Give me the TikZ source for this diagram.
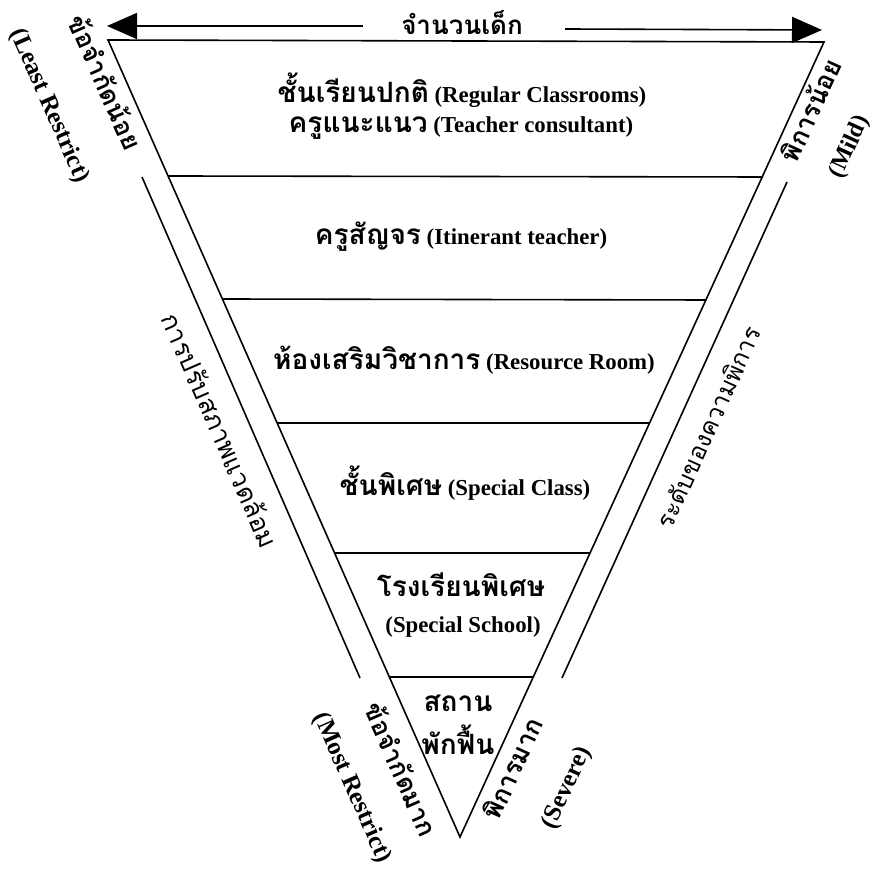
\documentclass[tikz,border=0pt]{standalone}
\usepackage{fontspec}
\setmainfont{Liberation Serif}
\newfontfamily\thai[Script=Thai]{Loma}
\usetikzlibrary{arrows.meta,calc}
\newcommand\thx[1]{{\thai\fontsize{14}{16}\selectfont #1}}
\newcommand\thr[1]{{\thai\fontsize{13}{15}\selectfont #1}}
\newcommand\thm[1]{{\thai\fontsize{12.2}{14}\selectfont #1}}
\begin{document}
\begin{tikzpicture}[x=0.5pt,y=-0.5pt,
  edge/.style={line width=0.8pt},
  lvl/.style={font=\bfseries\fontsize{11.4}{14}\selectfont, inner sep=0pt, anchor=center},
  sidel/.style={font=\bfseries\fontsize{12.5}{14}\selectfont, inner sep=0pt, rotate=-66.2},
  sider/.style={font=\bfseries\fontsize{12.5}{14}\selectfont, inner sep=0pt, rotate=65.4},
  arr/.style={line width=0.8pt, -{Triangle[length=15pt,width=13pt]}}]
\useasboundingbox (0,0) rectangle (873,870);
% triangle
\coordinate (TL) at (108,40);
\coordinate (TR) at (824,42);
\coordinate (AP) at (460,837);
\draw[edge] (TL) -- (TR) -- (AP) -- cycle;
% dividers
\coordinate (d1l) at (168.4,176); \coordinate (d1r) at (762.6,177);
\coordinate (d2l) at (222.7,299); \coordinate (d2r) at (706.3,300);
\coordinate (d3l) at (277.3,423); \coordinate (d3r) at (649.5,423);
\coordinate (d4l) at (334.6,553); \coordinate (d4r) at (590.0,553);
\coordinate (d5l) at (389.3,677); \coordinate (d5r) at (533.2,677);
\foreach \i in {1,...,5} \draw[edge] (d\i l) -- (d\i r);
% outer parallel lines
\coordinate (ol1) at (142,177); \coordinate (ol2) at (360,678);
\coordinate (or1) at (787,182); \coordinate (or2) at (562,678);
\draw[edge] (ol1) -- (ol2);
\draw[edge] (or1) -- (or2);
% top arrow
\node[font=\bfseries, inner sep=0pt] (cnt) at (462,23) {\thr{จำนวนเด็ก}};
\coordinate (la) at (107,26);
\coordinate (ra) at (822,30);
\coordinate (ls) at (363,26);
\coordinate (rs) at (565,29);
\draw[arr] (ls) -- (la);
\draw[arr] (rs) -- (ra);
% level texts
\node[lvl] (n1) at (462,90) {\thx{ชั้นเรียนปกติ} (Regular Classrooms)};
\node[lvl] (n2) at (461,128) {\thx{ครูแนะแนว} (Teacher consultant)};
\node[lvl] (n3) at (461,237) {\thx{ครูสัญจร} (Itinerant teacher)};
\node[lvl] (n4) at (464,360) {\thx{ห้องเสริมวิชาการ} (Resource Room)};
\node[lvl] (n5) at (465,483) {\thx{ชั้นพิเศษ} (Special Class)};
\node[lvl] (n6) at (461,585) {\thx{โรงเรียนพิเศษ}};
\node[lvl] (n7) at (463,627) {(Special School)};
\node[lvl] (n8) at (458,703) {\thx{สถาน}};
\node[lvl] (n9) at (458,740) {\thx{พักฟื้น}};
% side texts
\node[sidel] (r1) at (106,82) {\thr{ข้อจำกัดน้อย}};
\node[sidel] (r2) at (49,106) {(Least Restrict)};
\node[sider] (r3) at (810,110) {\thr{พิการน้อย}};
\node[sider, font=\bfseries\fontsize{12}{14}\selectfont] (r4) at (850,147) {(Mild)};
\node[sidel, font=\mdseries, rotate=-0.3] (r5) at (221,430) {\thr{การปรับสภาพแวดล้อม}};
\node[sider, font=\mdseries, rotate=0.2] (r6) at (708,427) {\thm{ระดับของความพิการ}};
\node[sidel] (r7) at (402,769) {\thr{ข้อจำกัดมาก}};
\node[sidel] (r8) at (352,788) {(Most Restrict)};
\node[sider] (r9) at (512,768) {\thr{พิการมาก}};
\node[sider] (r10) at (567,788) {(Severe)};
\end{tikzpicture}
\end{document}
